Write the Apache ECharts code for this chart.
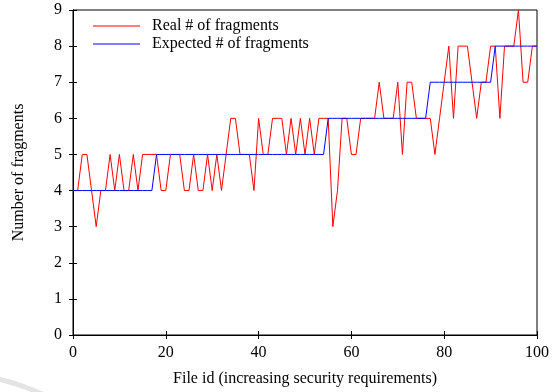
<!DOCTYPE html>
<html><head><meta charset="utf-8">
<script src="https://cdn.jsdelivr.net/npm/echarts@6/dist/echarts.min.js"></script>
<style>html,body{margin:0;padding:0;background:#fff}#c{width:560px;height:392px}</style>
</head><body><div id="c"></div>
<script>
const fileIds = Array.from({length: 101}, (_, i) => i);
const realFragments = [4,4,5,5,4,3,4,4,5,4,5,4,4,5,4,5,5,5,5,4,4,5,5,5,4,4,5,4,4,5,4,5,4,5,6,6,5,5,5,4,6,5,5,6,6,6,5,6,5,6,5,6,5,6,6,6,3,4,6,6,5,5,6,6,6,6,7,6,6,6,7,5,7,7,6,6,6,6,5,6,7,8,6,8,8,8,7,6,7,7,8,8,6,8,8,8,9,7,7,8,8];
const expectedFragments = [4,4,4,4,4,4,4,4,4,4,4,4,4,4,4,4,4,4,5,5,5,5,5,5,5,5,5,5,5,5,5,5,5,5,5,5,5,5,5,5,5,5,5,5,5,5,5,5,5,5,5,5,5,5,5,6,6,6,6,6,6,6,6,6,6,6,6,6,6,6,6,6,6,6,6,6,6,7,7,7,7,7,7,7,7,7,7,7,7,7,7,8,8,8,8,8,8,8,8,8,8];
const xTicks = [0,20,40,60,80,100];
const yTicks = [0,1,2,3,4,5,6,7,8,9];

const font = "'Liberation Serif','DejaVu Serif',serif";
const chart = echarts.init(document.getElementById('c'), null, {renderer: 'canvas'});
const pairs = a => a.map((v, i) => [fileIds[i], v]);
const lineIcon = 'path://M0,7L47,7L47,8L0,8Z';
chart.setOption({
  animation: false,
  grid: {left: 73, right: 23, top: 10, bottom: 55, show: true, borderColor: '#000', borderWidth: 1},
  graphic: [{
    type: 'arc', silent: true, z: -1,
    shape: {cx: -60, cy: 620, r: 248, startAngle: -1.40, endAngle: -1.10},
    style: {stroke: '#e4e4e4', lineWidth: 5, fill: null}
  }],
  legend: {
    left: 88, top: 13, orient: 'vertical', itemGap: 2, itemWidth: 47, itemHeight: 16,
    textStyle: {fontFamily: font, fontSize: 16, color: '#000', padding: [0,0,0,7]},
    data: [{name: 'Real # of fragments', icon: lineIcon}, {name: 'Expected # of fragments', icon: lineIcon}]
  },
  xAxis: [{
    type: 'value', min: 0, max: 100, interval: 20, position: 'bottom',
    name: 'File id (increasing security requirements)', nameLocation: 'middle', nameGap: 36,
    nameTextStyle: {fontFamily: font, fontSize: 16, color: '#000'},
    axisLine: {show: true, lineStyle: {color: '#000'}},
    axisTick: {show: true, inside: true, length: 4, lineStyle: {color: '#000'}},
    axisLabel: {fontFamily: font, fontSize: 16, color: '#000', margin: 10},
    splitLine: {show: false}
  }, {
    type: 'value', min: 0, max: 100, interval: 20, position: 'top',
    axisLine: {show: true, lineStyle: {color: '#000'}},
    axisTick: {show: true, inside: true, length: 4, lineStyle: {color: '#000'}},
    axisLabel: {show: false}, splitLine: {show: false}
  }],
  yAxis: [{
    type: 'value', min: 0, max: 9, interval: 1, position: 'left',
    name: 'Number of fragments', nameLocation: 'middle', nameGap: 46, nameRotate: 90,
    nameTextStyle: {fontFamily: font, fontSize: 16, color: '#000'},
    axisLine: {show: true, lineStyle: {color: '#000'}},
    axisTick: {show: true, inside: true, length: 4, lineStyle: {color: '#000'}},
    axisLabel: {fontFamily: font, fontSize: 16, color: '#000', margin: 11},
    splitLine: {show: false}
  }, {
    type: 'value', min: 0, max: 9, interval: 1, position: 'right',
    axisLine: {show: true, lineStyle: {color: '#000'}},
    axisTick: {show: true, inside: true, length: 4, lineStyle: {color: '#000'}},
    axisLabel: {show: false}, splitLine: {show: false}
  }],
  series: [{
    name: 'Real # of fragments', type: 'line', data: pairs(realFragments),
    showSymbol: false, symbol: 'none', color: '#ff0000', lineStyle: {width: 1, color: '#ff0000'}
  }, {
    name: 'Expected # of fragments', type: 'line', data: pairs(expectedFragments),
    showSymbol: false, symbol: 'none', color: '#0000ff', lineStyle: {width: 1, color: '#0000ff'}
  }]
});
</script></body></html>
